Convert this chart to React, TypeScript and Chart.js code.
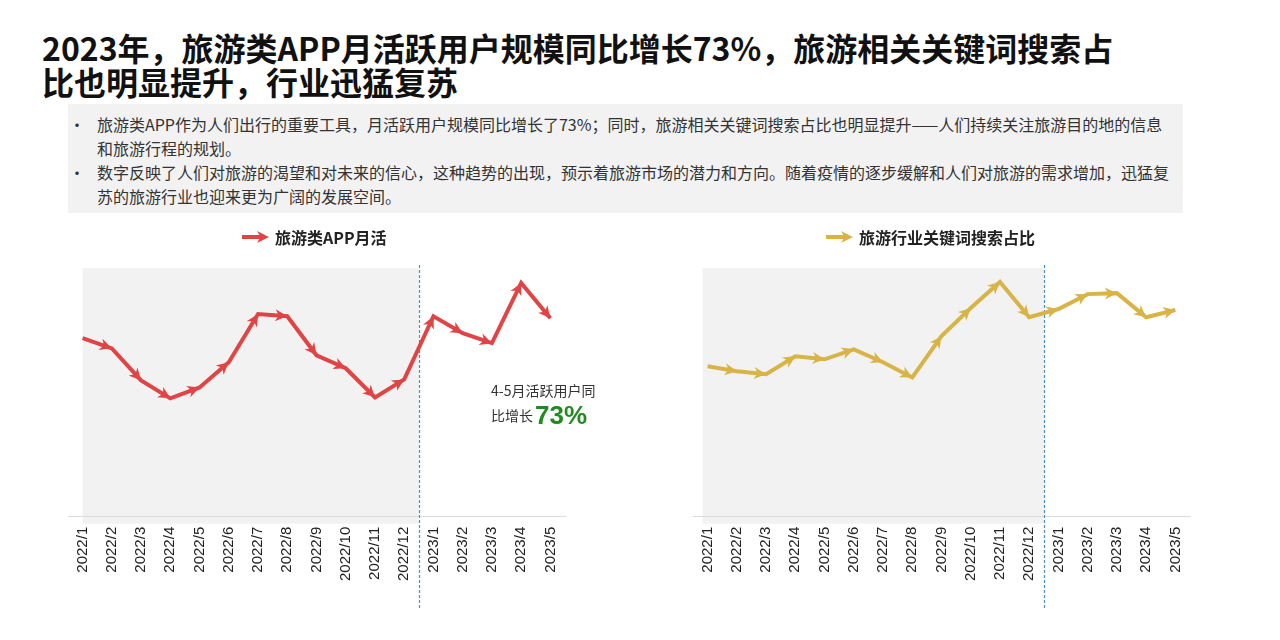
import React, { useEffect, useRef } from "react";
import { Chart, registerables } from "chart.js";

Chart.register(...registerables);

// ---------- data ----------
const months = [
  "2022/1", "2022/2", "2022/3", "2022/4", "2022/5", "2022/6", "2022/7", "2022/8",
  "2022/9", "2022/10", "2022/11", "2022/12", "2023/1", "2023/2", "2023/3", "2023/4", "2023/5",
];
// 旅游类APP月活 (relative index)
const appMau = [71.8, 67.7, 54.8, 47.6, 52.0, 62.1, 81.5, 80.6, 64.9, 59.7, 48.0, 55.2, 80.6, 73.8, 69.8, 94.0, 79.8];
// 旅游行业关键词搜索占比 (relative index)
const searchShare = [60.5, 58.5, 57.3, 64.5, 63.3, 67.3, 62.1, 56.0, 72.6, 83.9, 94.4, 80.2, 83.5, 89.5, 89.9, 80.2, 83.1];
const appLabel = "旅游类APP月活";
const searchLabel = "旅游行业关键词搜索占比";
const shadedMonths = 12; // 2022 is shaded

const titleLines = [
  "2023年，旅游类APP月活跃用户规模同比增长73%，旅游相关关键词搜索占",
  "比也明显提升，行业迅猛复苏",
];
const bullets = [
  [
    "旅游类APP作为人们出行的重要工具，月活跃用户规模同比增长了73%；同时，旅游相关关键词搜索占比也明显提升——人们持续关注旅游目的地的信息",
    "和旅游行程的规划。",
  ],
  [
    "数字反映了人们对旅游的渴望和对未来的信心，这种趋势的出现，预示着旅游市场的潜力和方向。随着疫情的逐步缓解和人们对旅游的需求增加，迅猛复",
    "苏的旅游行业也迎来更为广阔的发展空间。",
  ],
];
const noteLine1 = "4-5月活跃用户同";
const noteLine2 = "比增长";
const noteValue = "73%";

// ---------- drawing helpers ----------
function drawArrowHead(ctx: CanvasRenderingContext2D, tx: number, ty: number, angle: number, color: string) {
  const len = 12, hw = 6, notch = 3.5;
  const ux = Math.cos(angle), uy = Math.sin(angle);
  const nx = -uy, ny = ux;
  const bx = tx - len * ux, by = ty - len * uy;
  ctx.beginPath();
  ctx.moveTo(tx, ty);
  ctx.lineTo(bx + hw * nx, by + hw * ny);
  ctx.lineTo(tx - (len - notch) * ux, ty - (len - notch) * uy);
  ctx.lineTo(bx - hw * nx, by - hw * ny);
  ctx.closePath();
  ctx.fillStyle = color;
  ctx.fill();
}

const decorPlugin = {
  id: "decor",
  beforeDraw(chart: any, _a: any, opts: any) {
    const pts = chart.getDatasetMeta(0).data;
    const { ctx, chartArea } = chart;
    const x0 = pts[0].x - opts.shadeLead;
    const xs = (pts[opts.split - 1].x + pts[opts.split].x) / 2;
    ctx.save();
    ctx.fillStyle = "#f2f2f2";
    ctx.fillRect(x0, chartArea.top, xs - x0, chartArea.bottom + 7 - chartArea.top);
    ctx.restore();
  },
  beforeDatasetsDraw(chart: any, _a: any, opts: any) {
    const pts = chart.getDatasetMeta(0).data;
    const { ctx, chartArea } = chart;
    const xs = Math.round((pts[opts.split - 1].x + pts[opts.split].x) / 2) + 0.5;
    ctx.save();
    ctx.strokeStyle = "#4a90c8";
    ctx.lineWidth = 1.2;
    ctx.setLineDash([3, 2]);
    ctx.beginPath();
    ctx.moveTo(xs, chartArea.top - 3);
    ctx.lineTo(xs, chart.height - 4);
    ctx.stroke();
    ctx.restore();
  },
  afterDatasetsDraw(chart: any, _a: any, opts: any) {
    const pts = chart.getDatasetMeta(0).data;
    const { ctx } = chart;
    ctx.save();
    for (let i = 1; i < pts.length; i++) {
      const a = pts[i - 1], b = pts[i];
      drawArrowHead(ctx, b.x, b.y, Math.atan2(b.y - a.y, b.x - a.x), opts.color);
    }
    ctx.restore();
  },
  afterDraw(chart: any, _a: any, opts: any) {
    const { ctx } = chart;
    const y = 15;
    const x = opts.legendX;
    ctx.save();
    ctx.strokeStyle = opts.color;
    ctx.lineWidth = 4;
    ctx.beginPath();
    ctx.moveTo(x, y);
    ctx.lineTo(x + 20, y);
    ctx.stroke();
    drawArrowHead(ctx, x + 27, y, 0, opts.color);
    ctx.fillStyle = "#222";
    ctx.font = "bold 16px 'Noto Sans CJK SC', sans-serif";
    ctx.textBaseline = "middle";
    ctx.textAlign = "left";
    ctx.fillText(opts.label, x + 33, y + 1);
    ctx.restore();
  },
};

type TrendProps = {
  labels: string[];
  values: number[];
  label: string;
  color: string;
  left: number;
  legendX: number;
  shadeLead: number;
};

function TrendChart({ labels, values, label, color, left, legendX, shadeLead }: TrendProps) {
  const ref = useRef<HTMLCanvasElement>(null);
  useEffect(() => {
    const chart = new Chart(ref.current as HTMLCanvasElement, {
      type: "line",
      data: {
        labels,
        datasets: [
          {
            label,
            data: values,
            borderColor: color,
            backgroundColor: color,
            borderWidth: 4,
            pointRadius: 0,
            pointHoverRadius: 0,
            tension: 0,
            fill: false,
            borderJoinStyle: "miter",
            borderCapStyle: "butt",
          },
        ],
      },
      options: {
        responsive: false,
        animation: false,
        events: [],
        layout: { padding: { left: 8, right: 15, top: 46, bottom: 21 } },
        plugins: {
          legend: { display: false },
          tooltip: { enabled: false },
          decor: { split: shadedMonths, legendX, shadeLead, color, label },
        } as any,
        scales: {
          x: {
            offset: true,
            grid: { display: false, drawTicks: false },
            border: { display: true, color: "#dcdcdc", width: 1 },
            ticks: {
              autoSkip: false,
              minRotation: 90,
              maxRotation: 90,
              padding: 10,
              color: "#222",
              font: { family: "'Liberation Sans', Arial, sans-serif", size: 15 },
            },
          },
          y: { display: false, min: 0, max: 100 },
        },
      },
      plugins: [decorPlugin as any],
    });
    return () => chart.destroy();
  }, []);
  return (
    <canvas
      ref={ref}
      width={520}
      height={390}
      style={{ position: "absolute", left, top: 222, width: 520, height: 390 }}
    />
  );
}

export default function App() {
  return (
    <div
      style={{
        position: "absolute",
        left: 0,
        top: 0,
        width: 1280,
        height: 640,
        background: "#ffffff",
        overflow: "hidden",
        fontFamily: "'Noto Sans CJK SC', 'Noto Sans', sans-serif",
      }}
    >
      <div
        style={{
          position: "absolute",
          left: 42,
          top: 30,
          fontSize: 32,
          lineHeight: "34px",
          fontWeight: 700,
          color: "#111",
          whiteSpace: "nowrap",
        }}
      >
        {titleLines.map((t, i) => (
          <div key={i}>{t}</div>
        ))}
      </div>

      <div
        style={{
          position: "absolute",
          left: 68,
          top: 104,
          width: 1115,
          height: 109,
          background: "#f2f2f2",
          boxSizing: "border-box",
          paddingTop: 8,
          fontSize: 16,
          lineHeight: "24px",
          color: "#333",
          whiteSpace: "nowrap",
        }}
      >
        {bullets.map((lines, i) => (
          <div key={i} style={{ display: "flex" }}>
            <div style={{ width: 29, textAlign: "right", paddingRight: 12, boxSizing: "border-box" }}>•</div>
            <div>
              {lines.map((l, j) => (
                <div key={j}>{l}</div>
              ))}
            </div>
          </div>
        ))}
      </div>

      <TrendChart labels={months} values={appMau} label={appLabel} color="#e04444" left={60} legendX={182} shadeLead={0} />
      <TrendChart labels={months} values={searchShare} label={searchLabel} color="#d8b446" left={685} legendX={141} shadeLead={5} />

      <div style={{ position: "absolute", left: 491, top: 380, fontSize: 14, lineHeight: "20px", color: "#333", whiteSpace: "nowrap" }}>
        {noteLine1}
      </div>
      <div style={{ position: "absolute", left: 491, top: 400, height: 30, display: "flex", alignItems: "center", whiteSpace: "nowrap" }}>
        <span style={{ fontSize: 14, color: "#333" }}>{noteLine2}</span>
        <span style={{ fontSize: 26, fontWeight: 700, color: "#1e8c1e", fontFamily: "'Liberation Sans', Arial, sans-serif", marginLeft: 2 }}>
          {noteValue}
        </span>
      </div>
    </div>
  );
}
